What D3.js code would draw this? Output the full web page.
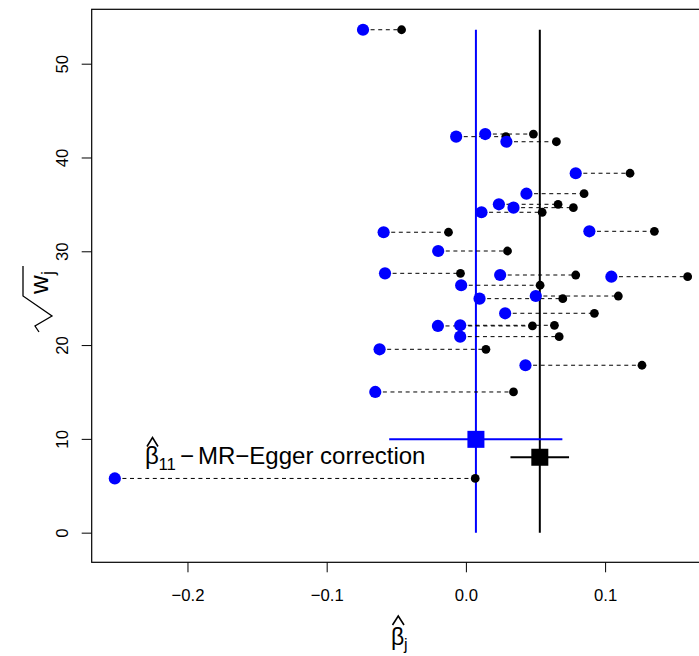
<!DOCTYPE html>
<html>
<head>
<meta charset="utf-8">
<script src="https://cdn.jsdelivr.net/npm/d3@7"></script>
<style>
  body { margin: 0; background: #fff; }
  text { font-family: "Liberation Sans", Arial, Helvetica, sans-serif; fill: #000; }
</style>
</head>
<body>
<svg id="chart" width="699" height="656"></svg>
<script>
// sqrt(w_j) of each variant
var sqrtW = [53.62, 42.22, 42.50, 41.68, 38.32, 36.14, 35.01, 34.65, 34.16, 32.03,
             32.13, 30.03, 27.65, 27.47, 27.29, 26.38, 24.95, 25.23, 23.39, 22.04,
             22.11, 20.90, 19.55, 17.85, 15.00, 5.78];
// raw ratio estimates (black)
var betaRaw = [-0.0462, 0.0287, 0.0485, 0.0650, 0.1179, 0.0849, 0.0662, 0.0772, 0.0548, -0.0125,
               0.1354, 0.0299, -0.0039, 0.0789, 0.1593, 0.0533, 0.0696, 0.1095, 0.0923, 0.0478,
               0.0636, 0.0670, 0.0144, 0.1265, 0.0342, 0.0067];
// MR-Egger corrected estimates (blue)
var betaCorr = [-0.0739, -0.0070, 0.0139, 0.0291, 0.0789, 0.0435, 0.0237, 0.0342, 0.0112, -0.0591,
                0.0887, -0.0199, -0.0581, 0.0246, 0.1045, -0.0034, 0.0098, 0.0502, 0.0282, -0.0201,
                -0.0041, -0.0041, -0.0620, 0.0428, -0.0651, -0.2522];

// pooled estimates: [estimate, lower, upper, y position]
var eggerEst = [0.0072, -0.0551, 0.0693, 9.95];
var ivwEst = [0.0531, 0.0320, 0.0741, 8.04];

var xTicks = [-0.2, -0.1, 0.0, 0.1];
var yTicks = [0, 10, 20, 30, 40, 50];

var svg = d3.select("#chart");

var x = d3.scaleLinear().domain([-0.2688, 0.1765]).range([91.7, 711.6]);
var y = d3.scaleLinear().domain([-3.16, 55.8]).range([562.3, 9.3]);

var yTop = d3.max(sqrtW);

// vertical estimate lines
svg.append("line")
    .attr("x1", x(eggerEst[0])).attr("x2", x(eggerEst[0]))
    .attr("y1", y(0)).attr("y2", y(yTop))
    .attr("stroke", "#0000ff").attr("stroke-width", 2);
svg.append("line")
    .attr("x1", x(ivwEst[0])).attr("x2", x(ivwEst[0]))
    .attr("y1", y(0)).attr("y2", y(yTop))
    .attr("stroke", "#000").attr("stroke-width", 2);

var idx = d3.range(sqrtW.length);

// dashed connectors
svg.append("g").selectAll("line")
    .data(idx).join("line")
    .attr("x1", function(i) { return x(betaCorr[i]); })
    .attr("x2", function(i) { return x(betaRaw[i]); })
    .attr("y1", function(i) { return y(sqrtW[i]); })
    .attr("y2", function(i) { return y(sqrtW[i]); })
    .attr("stroke", "#000").attr("stroke-width", 1)
    .attr("stroke-dasharray", "4,3.6");

// raw points
svg.append("g").selectAll("circle")
    .data(idx).join("circle")
    .attr("cx", function(i) { return x(betaRaw[i]); })
    .attr("cy", function(i) { return y(sqrtW[i]); })
    .attr("r", 4.4)
    .attr("fill", "#000");

// corrected points
svg.append("g").selectAll("circle")
    .data(idx).join("circle")
    .attr("cx", function(i) { return x(betaCorr[i]); })
    .attr("cy", function(i) { return y(sqrtW[i]); })
    .attr("r", 6.1)
    .attr("fill", "#0000ff");

// intervals and squares
[[eggerEst, "#0000ff"], [ivwEst, "#000"]].forEach(function(d) {
    var e = d[0];
    svg.append("line")
        .attr("x1", x(e[1])).attr("x2", x(e[2]))
        .attr("y1", y(e[3])).attr("y2", y(e[3]))
        .attr("stroke", d[1]).attr("stroke-width", 2);
    svg.append("rect")
        .attr("x", x(e[0]) - 8.5).attr("y", y(e[3]) - 8.5)
        .attr("width", 17).attr("height", 17)
        .attr("fill", d[1]);
});

// axes
var xAxis = svg.append("g")
    .attr("transform", "translate(0," + 562.3 + ")")
    .call(d3.axisBottom(x).tickValues(xTicks).tickFormat(d3.format(".1f")).tickSize(10));
xAxis.select(".domain").remove();
xAxis.selectAll("text").attr("y", 39).attr("dy", 0)
    .style("font-size", "16.7px");

var yAxis = svg.append("g")
    .attr("transform", "translate(" + 91.7 + ",0)")
    .call(d3.axisLeft(y).tickValues(yTicks).tickSize(10));
yAxis.select(".domain").remove();
yAxis.selectAll("text")
    .attr("transform", "rotate(-90)")
    .attr("x", 0).attr("y", -24).attr("dy", 0)
    .style("text-anchor", "middle")
    .style("font-size", "16.7px");
svg.selectAll(".tick line").attr("stroke", "#000");

// box
svg.append("rect")
    .attr("x", 91.7).attr("y", 9.3)
    .attr("width", 711.6 - 91.7).attr("height", 562.3 - 9.3)
    .attr("fill", "none").attr("stroke", "#000").attr("stroke-width", 1.2);

// hat helper
function hat(g, x0, x1, yb) {
    var m = (x0 + x1) / 2;
    g.append("path")
        .attr("d", "M" + x0 + "," + yb + "L" + m + "," + (yb - 9) + "L" + x1 + "," + yb)
        .attr("fill", "none").attr("stroke", "#000").attr("stroke-width", 1.6);
}

// annotation
var ann = svg.append("g");
var t = ann.append("text").attr("y", 464).style("font-size", "24px");
t.append("tspan").attr("x", 145).text("β");
t.append("tspan").attr("x", 158.5).attr("dy", 5.5).style("font-size", "16.8px").text("11");
t.append("tspan").attr("x", 180).attr("dy", -5.5).text("−");
t.append("tspan").attr("x", 198).text("MR−Egger correction");
hat(ann, 147, 158, 446.5);

// x label
var xl = svg.append("g");
var xt = xl.append("text").attr("y", 645).style("font-size", "23px");
xt.append("tspan").attr("x", 391).text("β");
xt.append("tspan").attr("x", 404).attr("dy", 5).style("font-size", "16px").text("j");
hat(xl, 392.5, 404, 625);

// y label
var yl = svg.append("g").attr("transform", "translate(48,332) rotate(-90)");
var yt = yl.append("text").attr("y", 0).style("font-size", "26px");
yt.append("tspan").attr("x", 38).text("w");
yt.append("tspan").attr("x", 57).attr("dy", 6).style("font-size", "18px").text("j");
yl.append("path")
    .attr("d", "M0,-9L6,-13L16,4L36,-25L66,-25")
    .attr("fill", "none").attr("stroke", "#000").attr("stroke-width", 1.3);
</script>
</body>
</html>
